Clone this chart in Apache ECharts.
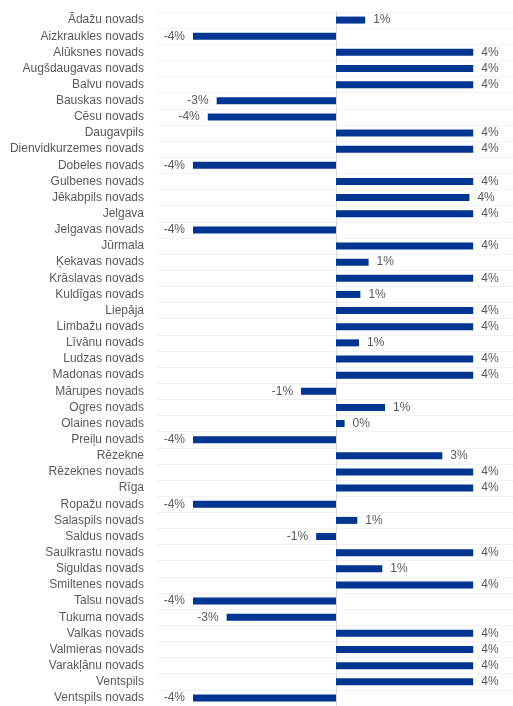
<!DOCTYPE html>
<html>
<head>
<meta charset="utf-8">
<script src="https://cdn.jsdelivr.net/npm/echarts@6/dist/echarts.min.js"></script>
<style>html,body{margin:0;padding:0;background:#fff}#c{width:513px;height:706px}</style>
</head>
<body>
<div id="c"></div>
<script>
const categories = ["Ādažu novads","Aizkraukles novads","Alūksnes novads","Augšdaugavas novads","Balvu novads","Bauskas novads","Cēsu novads","Daugavpils","Dienvidkurzemes novads","Dobeles novads","Gulbenes novads","Jēkabpils novads","Jelgava","Jelgavas novads","Jūrmala","Ķekavas novads","Krāslavas novads","Kuldīgas novads","Liepāja","Limbažu novads","Līvānu novads","Ludzas novads","Madonas novads","Mārupes novads","Ogres novads","Olaines novads","Preiļu novads","Rēzekne","Rēzeknes novads","Rīga","Ropažu novads","Salaspils novads","Saldus novads","Saulkrastu novads","Siguldas novads","Smiltenes novads","Talsu novads","Tukuma novads","Valkas novads","Valmieras novads","Varakļānu novads","Ventspils","Ventspils novads"];
const values = [0.85,-4.17,4.0,4.0,4.0,-3.48,-3.74,4.0,4.0,-4.17,4.0,3.89,4.0,-4.17,4.0,0.95,4.0,0.71,4.0,4.0,0.67,4.0,4.0,-1.02,1.43,0.25,-4.17,3.10,4.0,4.0,-4.17,0.62,-0.58,4.0,1.35,4.0,-4.17,-3.19,4.0,4.0,4.0,4.0,-4.17];

const chart = echarts.init(document.getElementById('c'), null, {renderer:'canvas'});
const font = "Liberation Sans, Arial, sans-serif";
chart.setOption({
  animation:false,
  grid:{left:157, top:12, width:356, height:698.5, containLabel:false},
  xAxis:{type:'value', min:-5.22, max:5.16, show:true,
    axisLine:{show:false}, axisTick:{show:false}, axisLabel:{show:false}, splitLine:{show:false}},
  yAxis:{type:'category', data:categories, inverse:true,
    axisLine:{show:true, onZero:true, lineStyle:{color:'#d9d9d9', width:1}},
    axisTick:{show:false},
    splitLine:{show:true, lineStyle:{color:'#f2f2f2', width:1}},
    axisLabel:{color:'#595959', fontSize:12, fontFamily:font, margin:13}},
  series:[{type:'bar', barWidth:7,
    data: values.map(v=>({value:v, label:{position: v<0 ? 'left':'right'}})),
    itemStyle:{color:'#003591'},
    label:{show:true, color:'#595959', fontSize:12, fontFamily:font, distance:8,
      formatter:p=>Math.round(p.value)+'%'}
  }]
});
</script>
</body>
</html>
